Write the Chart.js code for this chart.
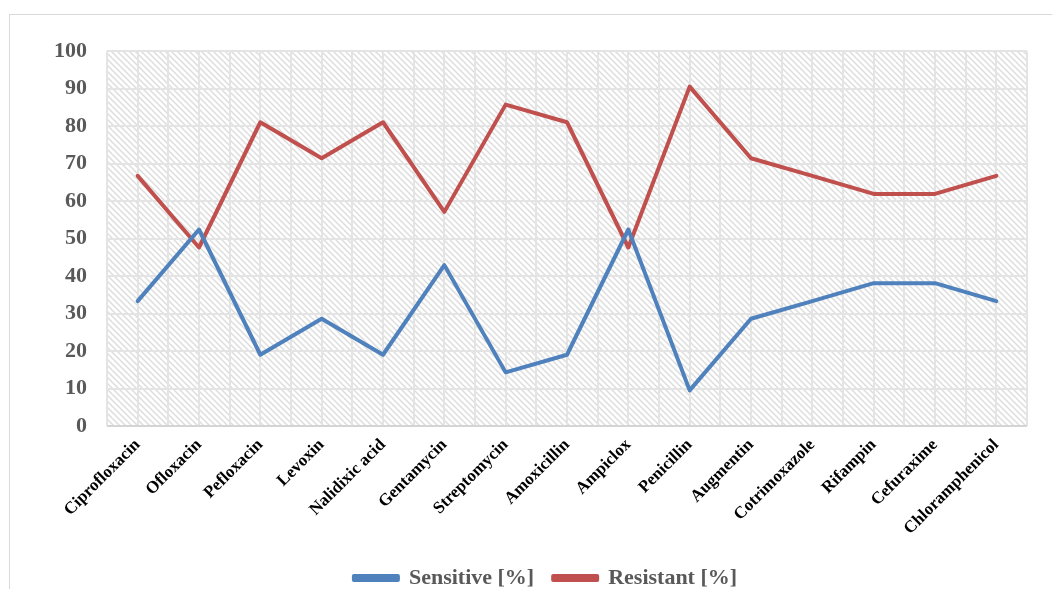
<!DOCTYPE html>
<html>
<head>
<meta charset="utf-8">
<script src="https://cdn.jsdelivr.net/npm/chart.js@4/dist/chart.umd.min.js"></script>
<style>
html, body { margin: 0; padding: 0; background: #fff; overflow: hidden; width: 1052px; height: 589px; }
#frame { position: absolute; left: 9px; top: 14px; width: 1100px; height: 620px; border: 1px solid #d9d9d9; }
#c { position: absolute; left: 0; top: 0; }
</style>
</head>
<body>
<div id="frame"></div>
<canvas id="c" width="1052" height="599"></canvas>
<script>
var FONT = "'Liberation Serif', 'Times New Roman', serif";

var drugs = ['Ciprofloxacin', 'Ofloxacin', 'Pefloxacin', 'Levoxin', 'Nalidixic acid', 'Gentamycin',
	'Streptomycin', 'Amoxicillin', 'Ampiclox', 'Penicillin', 'Augmentin', 'Cotrimoxazole',
	'Rifampin', 'Cefuraxime', 'Chloramphenicol'];
var sensitive = [33.3, 52.4, 19.0, 28.6, 19.0, 42.9, 14.3, 19.0, 52.4, 9.5, 28.6, 33.3, 38.1, 38.1, 33.3];
var resistant = [66.7, 47.6, 81.0, 71.4, 81.0, 57.1, 85.7, 81.0, 47.6, 90.5, 71.4, 66.7, 61.9, 61.9, 66.7];
var yTicks = [0, 10, 20, 30, 40, 50, 60, 70, 80, 90, 100];

function toPoints(values) {
	return values.map(function(v, i) { return {x: i, y: v}; });
}

// diagonal hatch behind the plot area
function makeHatch(ctx) {
	var tile = document.createElement('canvas');
	tile.width = 6;
	tile.height = 6;
	var t = tile.getContext('2d');
	t.fillStyle = '#ffffff';
	t.fillRect(0, 0, 6, 6);
	t.strokeStyle = '#dddddd';
	t.lineWidth = 1.5;
	t.beginPath();
	t.moveTo(-1, -1); t.lineTo(7, 7);
	t.moveTo(-1, 5); t.lineTo(1, 7);
	t.moveTo(5, -1); t.lineTo(7, 1);
	t.stroke();
	return ctx.createPattern(tile, 'repeat');
}

var hatchPlugin = {
	id: 'hatch',
	afterLayout: function(chart) {
		// legend in the original sits a little right of centre
		chart.legend.left += 32;
		chart.legend.right += 32;
	},
	beforeDraw: function(chart) {
		var a = chart.chartArea;
		var ctx = chart.ctx;
		ctx.save();
		ctx.fillStyle = makeHatch(ctx);
		ctx.fillRect(a.left, a.top, a.right - a.left, a.bottom - a.top);
		ctx.restore();
	}
};

new Chart(document.getElementById('c'), {
	type: 'line',
	data: {
		datasets: [
			{
				label: 'Sensitive [%]',
				data: toPoints(sensitive),
				borderColor: '#4f81bd',
				backgroundColor: '#4f81bd',
				borderWidth: 4,
				pointRadius: 0,
				borderJoinStyle: 'round',
				borderCapStyle: 'round'
			},
			{
				label: 'Resistant [%]',
				data: toPoints(resistant),
				borderColor: '#c0504d',
				backgroundColor: '#c0504d',
				borderWidth: 4,
				pointRadius: 0,
				borderJoinStyle: 'round',
				borderCapStyle: 'round'
			}
		]
	},
	options: {
		responsive: false,
		animation: false,
		layout: {padding: {top: 51, right: 25, left: 0, bottom: 0}},
		plugins: {
			tooltip: {enabled: false},
			legend: {
				position: 'bottom',
				labels: {
					font: {family: FONT, size: 22, weight: 'bold'},
					color: '#595959',
					boxWidth: 44,
					boxHeight: 4,
					padding: 19
				}
			}
		},
		scales: {
			x: {
				type: 'linear',
				min: -0.5,
				max: drugs.length - 0.5,
				afterFit: function(scale) { scale.height = 122; },
				ticks: {
					stepSize: 0.5,
					autoSkip: false,
					minRotation: 45,
					maxRotation: 45,
					padding: 9,
					color: '#000',
					font: {family: FONT, size: 17, weight: 'bold'},
					callback: function(v) {
						return Number.isInteger(v) ? drugs[v] : '';
					}
				},
				grid: {color: '#e4e4e4', lineWidth: 2, drawTicks: false},
				border: {display: false}
			},
			y: {
				min: 0,
				max: 100,
				afterFit: function(scale) { scale.width = 107; },
				afterBuildTicks: function(scale) {
					scale.ticks = yTicks.map(function(v) { return {value: v}; });
				},
				ticks: {
					padding: 20,
					color: '#595959',
					font: {family: FONT, size: 22, weight: 'bold'}
				},
				grid: {
					drawTicks: false,
					lineWidth: 2,
					color: function(c) { return c.tick && c.tick.value === 0 ? '#d4d4d4' : '#e4e4e4'; }
				},
				border: {display: false}
			}
		}
	},
	plugins: [hatchPlugin]
});
</script>
</body>
</html>
